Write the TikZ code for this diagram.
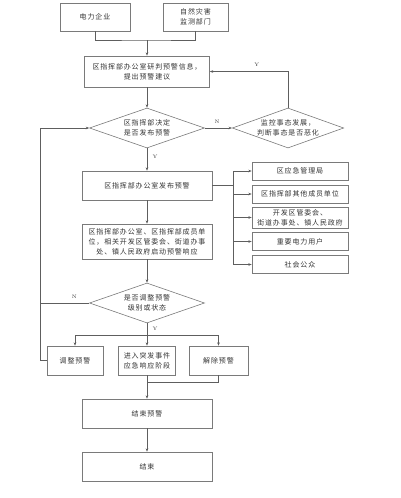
\documentclass[tikz,border=0pt]{standalone}
\usepackage{fontspec}
\usepackage{tikz}
\usetikzlibrary{arrows.meta,positioning,shapes.geometric,calc}
\newfontfamily\cjk[LetterSpace=12]{Noto Sans CJK SC}
\definecolor{fline}{HTML}{5E5E5E}
\definecolor{fedge}{HTML}{7A7A7A}
\definecolor{fink}{HTML}{333333}
\tikzset{
  fbox/.style={
    draw=fedge, line width=0.6pt, fill=white, text=fink, align=center,
    inner sep=1pt, font=\cjk\fontsize{7}{10}\selectfont},
  fdec/.style={
    diamond, aspect=3, draw=fedge, line width=0.6pt, fill=white,
    text=fink, align=center, inner sep=0pt,
    minimum width=115pt, minimum height=40pt,
    font=\cjk\fontsize{7}{10}\selectfont},
  fflow/.style={-{Stealth[length=3.4pt,width=2.6pt]}, draw=fline,
    line width=0.6pt},
  fline/.style={draw=fline, line width=0.6pt},
  fnote/.style={text=fink, font=\fontsize{5}{6}\selectfont},
}
\begin{document}
\begin{tikzpicture}[x=1pt,y=-1pt]
\useasboundingbox (0,0) rectangle (400,498);

% sources
\node[fbox,minimum width=70pt,minimum height=28pt] (src1) at (95,17) {电力企业};
\node[fbox,minimum width=65pt,minimum height=28pt] (src2) at (195.5,17)
  {自然灾害\\监测部门};
\node[fbox,minimum width=125pt,minimum height=31pt] (judge) at (147,71.5)
  {区指挥部办公室研判预警信息，\\提出预警建议};

% decisions
\node[fdec] (dec1) at (147,128) {区指挥部决定\\是否发布预警};
\node[fdec,minimum width=110pt] (watch) at (288,128) {监控事态发展，\\判断事态是否恶化};

% issue and recipients
\node[fbox,minimum width=130pt,minimum height=29pt] (issue) at (147,185.5)
  {区指挥部办公室发布预警};
\node[fbox,minimum width=96pt,minimum height=18pt] (r1) at (300,171) {区应急管理局};
\node[fbox,minimum width=96pt,minimum height=18pt] (r2) at (300,194) {区指挥部其他成员单位};
\node[fbox,minimum width=96pt,minimum height=21pt] (r3) at (300,217.5)
  {开发区管委会、\\街道办事处、镇人民政府};
\node[fbox,minimum width=96pt,minimum height=18pt] (r4) at (300,241.5) {重要电力用户};
\node[fbox,minimum width=96pt,minimum height=18pt] (r5) at (300,264.5) {社会公众};

\node[fbox,minimum width=130pt,minimum height=35pt] (resp) at (147,241.5)
  {区指挥部办公室、区指挥部成员单\\位，相关开发区管委会、街道办事\\处、镇人民政府启动预警响应};
\node[fdec] (dec2) at (147,303) {是否调整预警\\级别或状态};

% outcomes
\node[fbox,minimum width=56pt,minimum height=29pt] (adjust) at (75,360.5) {调整预警};
\node[fbox,minimum width=57pt,minimum height=29pt] (emerg) at (147,360.5)
  {进入突发事件\\应急响应阶段};
\node[fbox,minimum width=59pt,minimum height=29pt] (lift) at (218.5,360.5) {解除预警};
\node[fbox,minimum width=130pt,minimum height=29pt] (endw) at (147,413.5) {结束预警};
\node[fbox,minimum width=130pt,minimum height=29pt] (fin) at (147,466.5) {结束};

% flow
\coordinate (join) at (147,40);
\draw[fline] (src1.south) |- (join) -| (src2.south);
\draw[fflow] (join) -- (judge.north);
\draw[fflow] (judge.south) -- (dec1.north);
\draw[fflow] (dec1.east) -- node[fnote,above=1pt,pos=0.45] {N} (watch.west);
\draw[fflow] (watch.north) |- node[fnote,above=1pt,pos=0.7] {Y} (judge.east);
\draw[fflow] (dec1.south) -- node[fnote,right=2pt,pos=0.4] {Y} (issue.north);

% recipients
\coordinate (bus) at (233,185.5);
\draw[fline] (issue.east) -- (bus);
\draw[fline] (bus |- r1.west) -- (bus |- r5.west);
\foreach \r in {r1,r2,r3,r4,r5}
  \draw[fflow] (bus |- \r.west) -- (\r.west);

\draw[fflow] (issue.south) -- (resp.north);
\draw[fflow] (resp.south) -- (dec2.north);

% loop back
\coordinate (back) at (40,303);
\draw[fline] (dec2.west) -- node[fnote,above=1pt,pos=0.3] {N} (back);
\draw[fflow] (adjust.west) -- (40,360.5) |- (dec1.west);

% split
\coordinate (split) at (147,335);
\draw[fline] (dec2.south) -- node[fnote,right=2pt,pos=0.5] {Y} (split);
\draw[fline] (adjust.north |- split) -- (lift.north |- split);
\draw[fflow] (adjust.north |- split) -- (adjust.north);
\draw[fflow] (emerg.north |- split) -- (emerg.north);
\draw[fflow] (lift.north |- split) -- (lift.north);

% end
\draw[fflow] (emerg.south) -- (endw.north);
\draw[fline] (lift.south) -- ++(0,7) -| (emerg.south);
\draw[fflow] (endw.south) -- (fin.north);

\end{tikzpicture}
\end{document}
